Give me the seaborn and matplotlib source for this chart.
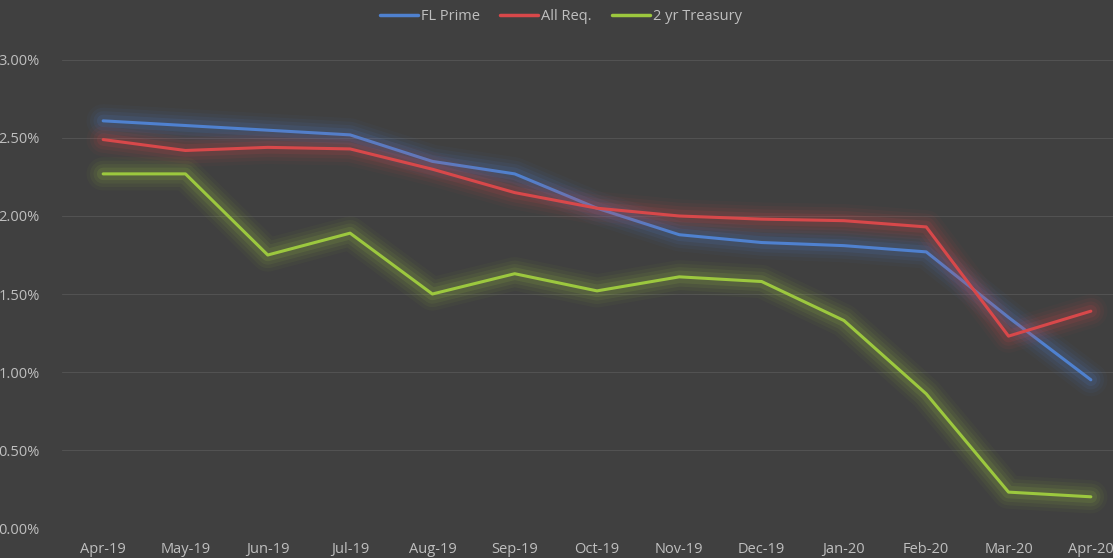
import matplotlib
matplotlib.use("Agg")
import matplotlib.pyplot as plt
import matplotlib.patheffects as pe
import matplotlib.ticker as mticker
import numpy as np
import pandas as pd
import seaborn as sns

months = ["Apr-19", "May-19", "Jun-19", "Jul-19", "Aug-19", "Sep-19", "Oct-19",
          "Nov-19", "Dec-19", "Jan-20", "Feb-20", "Mar-20", "Apr-20"]
fl_prime = [2.61, 2.58, 2.55, 2.52, 2.35, 2.27, 2.05, 1.88, 1.83, 1.81, 1.77, 1.35, 0.95]
all_req = [2.49, 2.42, 2.44, 2.43, 2.30, 2.15, 2.05, 2.00, 1.98, 1.97, 1.93, 1.23, 1.39]
treasury_2yr = [2.27, 2.27, 1.75, 1.89, 1.50, 1.63, 1.52, 1.61, 1.58, 1.33, 0.86, 0.23, 0.20]

series = {"FL Prime": fl_prime, "All Req.": all_req, "2 yr Treasury": treasury_2yr}
colors = {"FL Prime": "#4f81cf", "All Req.": "#d8484a", "2 yr Treasury": "#9cc83e"}

df = pd.concat([
    pd.DataFrame({"x": np.arange(len(months)), "month": months, "rate": np.array(v) / 100, "serie": k})
    for k, v in series.items()
])

bg = "#404040"
txt = "#bfbfbf"
sns.set_theme(style="dark", rc={"axes.facecolor": bg, "figure.facecolor": bg})
plt.rcParams["font.family"] = ["Open Sans", "DejaVu Sans"]

fig = plt.figure(figsize=(11.13, 5.58), dpi=100)
ax = fig.add_axes([62 / 1113, 30 / 558, 1070 / 1113, 468 / 558])

sns.lineplot(data=df, x="x", y="rate", hue="serie", palette=colors, linewidth=2.2,
             ax=ax, legend=False)

# effet "glow" façon Excel
for line in ax.get_lines():
    c = line.get_color()
    line.set_path_effects([
        pe.Stroke(linewidth=24, foreground=c, alpha=0.04),
        pe.Stroke(linewidth=19, foreground=c, alpha=0.06),
        pe.Stroke(linewidth=14, foreground=c, alpha=0.08),
        pe.Stroke(linewidth=9, foreground=c, alpha=0.12),
        pe.Normal(),
    ])
    line.set_clip_on(False)

ax.set_xlim(-0.5, len(months) - 0.5)
ax.set_ylim(0, 0.03)
ax.set_xticks(range(len(months)))
ax.set_xticklabels(months)
ax.set_yticks(np.arange(0, 0.0301, 0.005))
ax.yaxis.set_major_formatter(mticker.FuncFormatter(lambda v, p: f"{v * 100:.2f}%"))
ax.tick_params(axis="both", length=0, colors=txt, labelsize=10.5)
ax.tick_params(axis="y", pad=16)
ax.tick_params(axis="x", pad=10)
ax.grid(axis="y", color="#525252", linewidth=0.8)
ax.grid(axis="x", visible=False)
for s in ax.spines.values():
    s.set_visible(False)
ax.set_xlabel("")
ax.set_ylabel("")

handles = [plt.Line2D([], [], color=colors[k], linewidth=2.5) for k in series]
fig.legend(handles, list(series.keys()), loc="center", bbox_to_anchor=(561 / 1113, 1 - 17 / 558),
           ncol=3, frameon=False, fontsize=10.5, labelcolor=txt, handlelength=2.6,
           handletextpad=0.2, columnspacing=1.4)

fig.savefig("out.png", dpi=100, facecolor=bg)
